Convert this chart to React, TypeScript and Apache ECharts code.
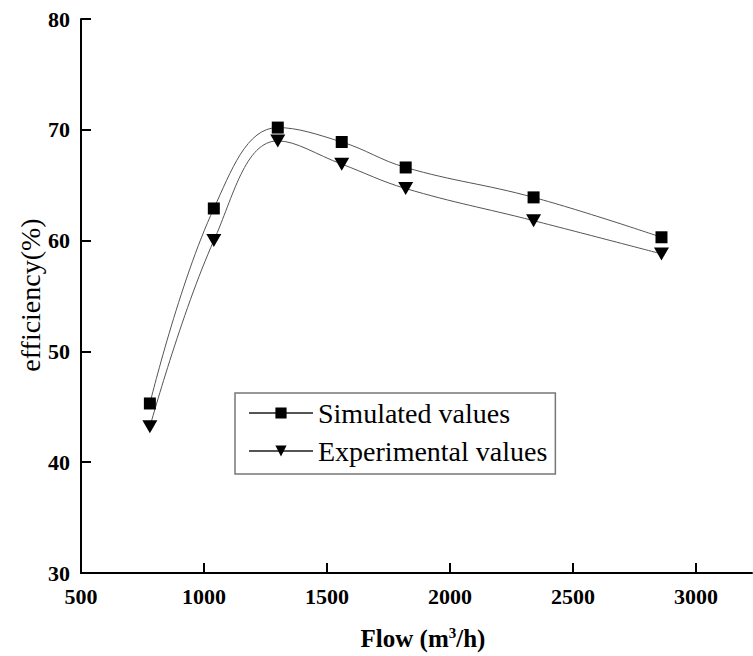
import React, { useEffect, useRef } from "react";
import * as echarts from "echarts";

const flow = [780, 1040, 1300, 1560, 1820, 2340, 2860];
const simulated = [45.3, 62.9, 70.2, 68.9, 66.6, 63.9, 60.3];
const experimental = [43.2, 60.0, 69.0, 66.9, 64.7, 61.8, 58.8];
const xTicks = [500, 1000, 1500, 2000, 2500, 3000];
const seriesNames = ["Simulated values", "Experimental values"];

export default function App() {
  const ref = useRef<HTMLDivElement>(null);
  useEffect(() => {
    if (!ref.current) return;
    const chart = echarts.init(ref.current, null, { renderer: "svg" });
    const serif = "'Liberation Serif', 'DejaVu Serif', serif";
    chart.setOption({
      animation: false,
      backgroundColor: "#fff",
      grid: { left: 81, right: 1, top: 19, bottom: 83 },
      xAxis: {
        type: "value",
        min: 500,
        max: 3228,
        interval: 500,
        axisLine: { lineStyle: { color: "#000", width: 2 } },
        axisTick: { inside: true, length: 10, customValues: xTicks, lineStyle: { color: "#000", width: 2 } },
        axisLabel: {
          customValues: xTicks,
          formatter: (v: number) => String(v),
          margin: 12,
          color: "#000",
          fontFamily: serif,
          fontWeight: "bold",
          fontSize: 22,
        },
        splitLine: { show: false },
      },
      yAxis: {
        type: "value",
        min: 30,
        max: 80,
        interval: 10,
        axisLine: { show: true, lineStyle: { color: "#000", width: 2 } },
        axisTick: { show: true, inside: true, length: 10, lineStyle: { color: "#000", width: 2 } },
        axisLabel: {
          formatter: (v: number) => String(v),
          margin: 11,
          color: "#000",
          fontFamily: serif,
          fontWeight: "bold",
          fontSize: 22,
        },
        splitLine: { show: false },
      },
      legend: {
        orient: "vertical",
        left: 235,
        top: 393,
        padding: [6, 8, 9, 13],
        itemGap: 10,
        itemWidth: 64,
        itemHeight: 14,
        borderColor: "#777",
        borderWidth: 1.5,
        textStyle: { fontFamily: serif, fontSize: 28, color: "#000" },
        data: seriesNames,
      },
      graphic: [
        {
          type: "text",
          x: 30,
          y: 295,
          rotation: Math.PI / 2,
          style: {
            text: "efficiency(%)",
            fontFamily: serif,
            fontSize: 28,
            fill: "#000",
            textAlign: "center",
            textVerticalAlign: "middle",
          },
        },
        {
          type: "text",
          x: 423,
          y: 638,
          style: {
            text: "{b|Flow (m}{s|3}{b|/h)}",
            fill: "#000",
            textAlign: "center",
            textVerticalAlign: "middle",
            rich: {
              b: { fontFamily: serif, fontWeight: "bold", fontSize: 25, fill: "#000" },
              s: { fontFamily: serif, fontWeight: "bold", fontSize: 15, fill: "#000", verticalAlign: "top", padding: [0, 0, 10, 0] },
            },
          },
        },
      ],
      series: [
        {
          name: seriesNames[0],
          type: "line",
          smooth: 0.4,
          data: flow.map((x, i) => [x, simulated[i]]),
          symbol: "rect",
          symbolSize: 12,
          itemStyle: { color: "#000" },
          lineStyle: { color: "#555", width: 1 },
        },
        {
          name: seriesNames[1],
          type: "line",
          smooth: 0.4,
          data: flow.map((x, i) => [x, experimental[i]]),
          symbol: "path://M0,0 L14,0 L7,12 Z",
          symbolSize: [15, 13],
          itemStyle: { color: "#000" },
          lineStyle: { color: "#555", width: 1 },
        },
      ],
    });
    return () => chart.dispose();
  }, []);
  return <div ref={ref} style={{ width: 753, height: 656, position: "absolute", left: 0, top: 0 }} />;
}
